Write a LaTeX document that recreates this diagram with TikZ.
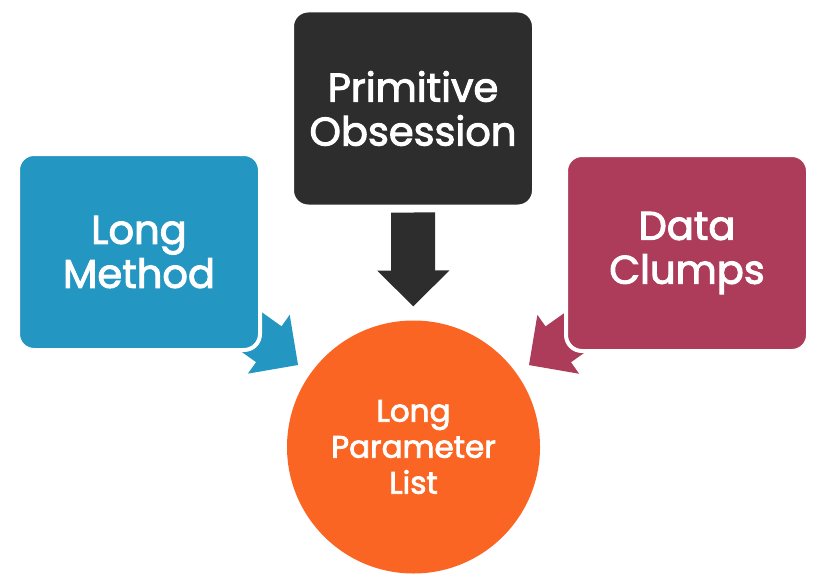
\documentclass[tikz,border=0pt]{standalone}
\usepackage{fontspec}
\setmainfont{Poppins}[FakeBold=2.5,UprightFont=*,UprightFeatures={FakeBold=2.5}]
\usetikzlibrary{arrows.meta,backgrounds}
\definecolor{methodblue}{RGB}{36,150,194}
\definecolor{obsessiongray}{RGB}{45,45,45}
\definecolor{clumpsred}{RGB}{173,59,90}
\definecolor{listorange}{RGB}{250,101,35}
\begin{document}
\begin{tikzpicture}[x=1pt,y=-1pt,
  smellbox/.style={rounded corners=16pt,draw=white,line width=4pt,minimum width=242pt,minimum height=196pt,inner sep=0pt,text=white,align=center,font=\fontsize{40}{44}\selectfont},
  smellarrow/.style={line width=44pt,-{Triangle[width=70pt,length=36pt]}}]
\useasboundingbox (0,0) rectangle (821,583);
\node[smellbox,fill=methodblue] (lm) at (139,252) {Long\\Method};
\node[smellbox,fill=obsessiongray] (po) at (413,108.5) {Primitive\\Obsession};
\node[smellbox,fill=clumpsred] (dc) at (687,253) {Data\\Clumps};
\node[circle,fill=listorange,minimum size=253pt,inner sep=0pt,outer sep=0pt,text=white,align=center,font=\fontsize{31}{36}\selectfont] (lpl) at (413.5,447) {Long\\Parameter\\List};
\begin{scope}[on background layer]
\draw[smellarrow,color=methodblue,shorten >=15pt] (lm.center) -- (lpl);
\draw[smellarrow,color=obsessiongray,shorten <=4pt,shorten >=14pt] (po) -- (lpl);
\draw[smellarrow,color=clumpsred,shorten >=15pt] (dc.center) -- (lpl);
\end{scope}
\end{tikzpicture}
\end{document}
